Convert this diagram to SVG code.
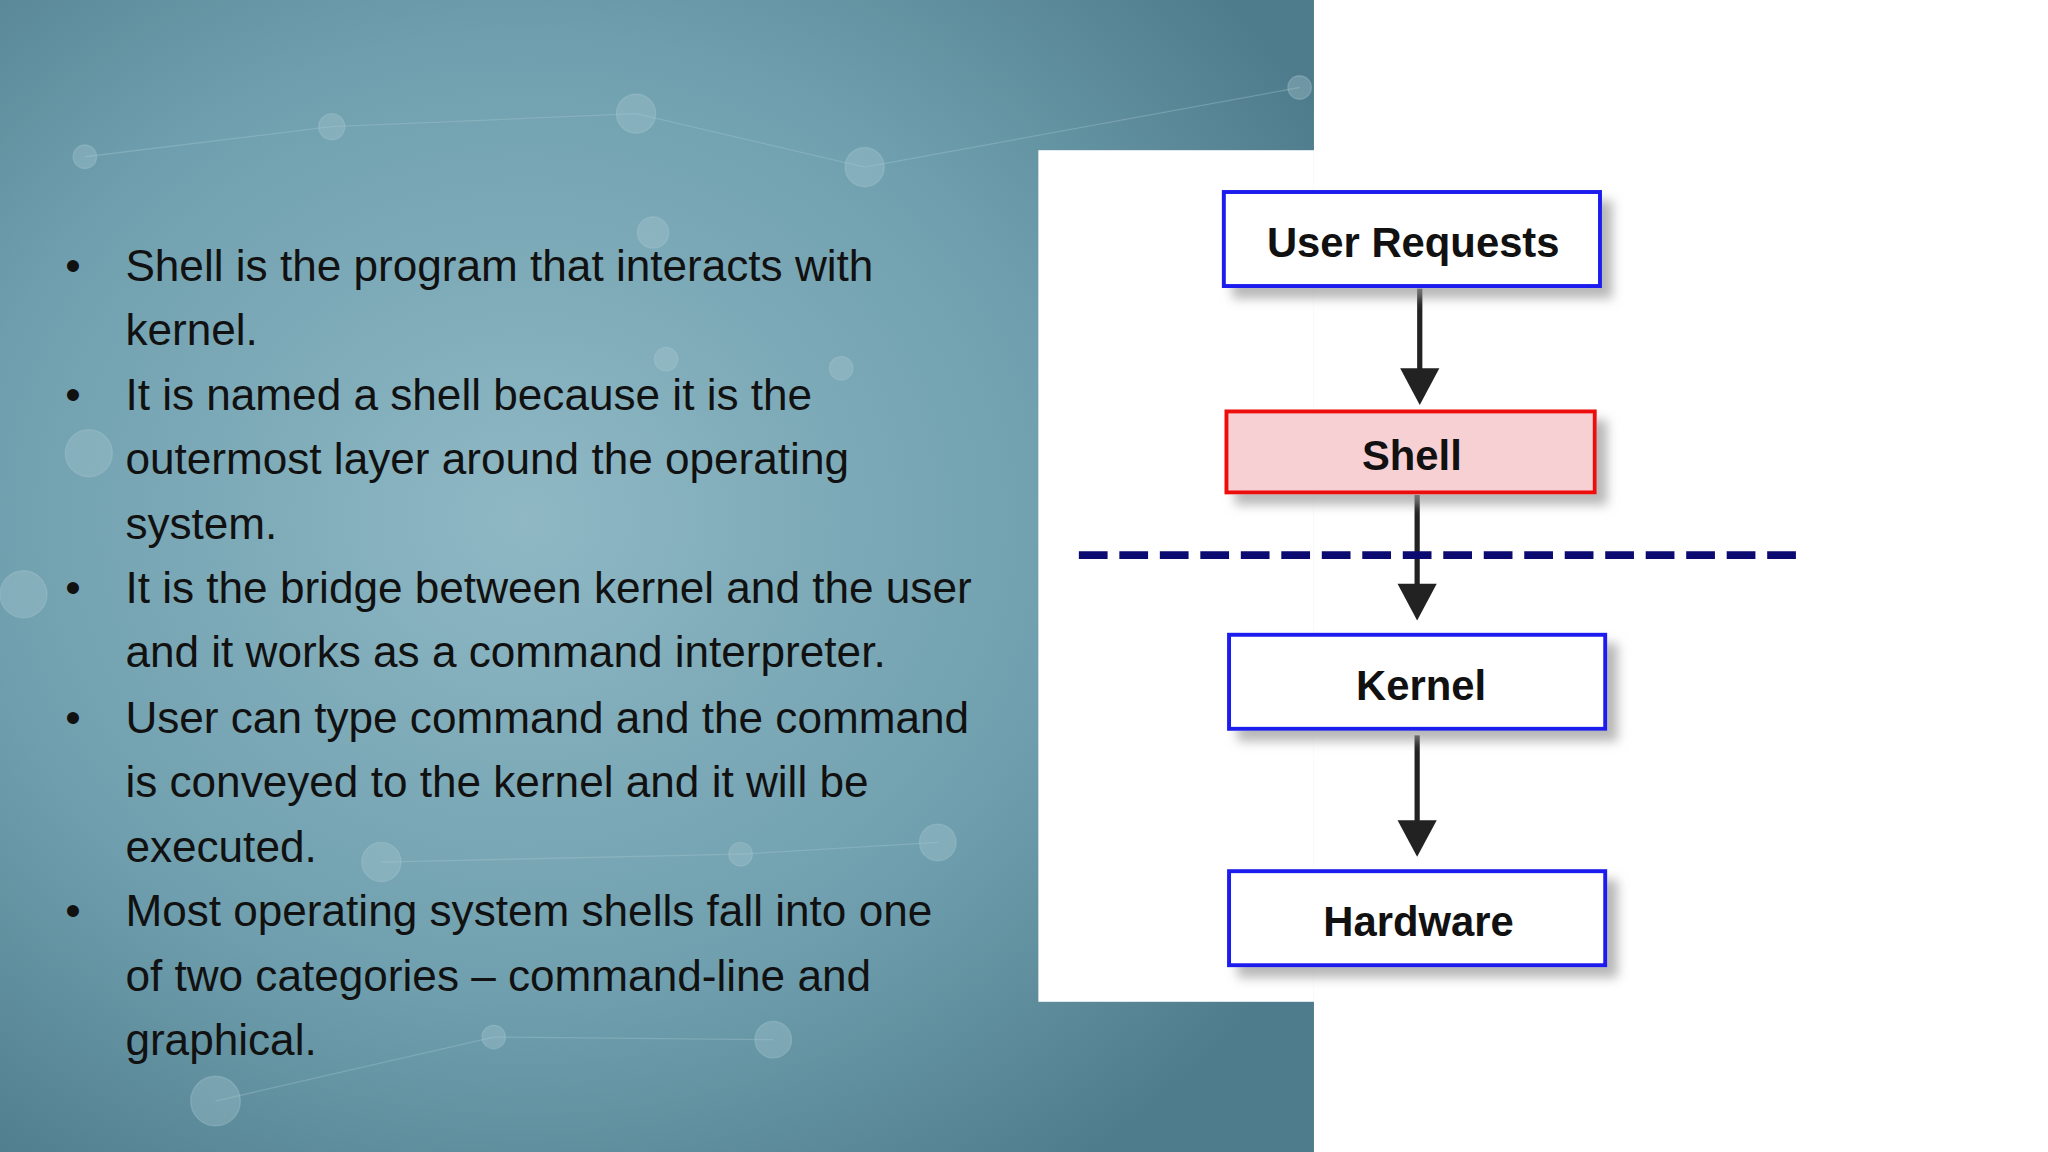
<svg xmlns="http://www.w3.org/2000/svg" width="2048" height="1152" viewBox="0 0 2048 1152">
<defs>
<radialGradient id="bg" cx="0.4" cy="0.45" r="0.7">
<stop offset="0" stop-color="#8fb8c4"/><stop offset="0.6" stop-color="#6f9fae"/><stop offset="1" stop-color="#4f7c8c"/>
</radialGradient>
<filter id="sh" x="-10%" y="-20%" width="130%" height="160%"><feDropShadow dx="8" dy="8" stdDeviation="4" flood-color="#999" flood-opacity="0.7"/></filter>
</defs>
<style>
.t{font-family:"Liberation Sans",Arial,sans-serif;font-size:33.8px;fill:#111}
.n{font-family:"Liberation Sans",Arial,sans-serif;font-size:32px;font-weight:bold;fill:#111;text-anchor:middle}
.b{fill:#fff;stroke:#1a1aee;stroke-width:3}
.c{stroke:#222;stroke-width:4;fill:none}
.h{fill:#222}
</style>
<rect width="2048" height="1152" fill="#fff"/>
<g transform="scale(1.30612)">
<rect x="0" y="0" width="1006" height="882" fill="url(#bg)"/>
<g stroke="#a8c8d2" stroke-opacity="0.35" fill="#a8c8d2" fill-opacity="0.35">
<line x1="65" y1="120" x2="254" y2="97"/><line x1="254" y1="97" x2="487" y2="87"/><line x1="487" y1="87" x2="662" y2="128"/><line x1="662" y1="128" x2="995" y2="67"/><line x1="292" y1="660" x2="567" y2="654"/><line x1="567" y1="654" x2="718" y2="645"/><line x1="378" y1="794" x2="592" y2="796"/><line x1="165" y1="843" x2="378" y2="794"/>
<circle cx="65" cy="120" r="9"/><circle cx="254" cy="97" r="10"/><circle cx="487" cy="87" r="15"/><circle cx="662" cy="128" r="15"/><circle cx="995" cy="67" r="9"/><circle cx="68" cy="347" r="18"/><circle cx="18" cy="455" r="18"/><circle cx="292" cy="660" r="15"/><circle cx="567" cy="654" r="9"/><circle cx="718" cy="645" r="14"/><circle cx="378" cy="794" r="9"/><circle cx="592" cy="796" r="14"/><circle cx="165" cy="843" r="19"/><circle cx="510" cy="275" r="9"/><circle cx="644" cy="282" r="9"/><circle cx="500" cy="178" r="12"/>
</g>
<rect x="795" y="115" width="211" height="652" fill="#fff"/>
<g id="text">
<text class="t" x="50" y="215">•</text><text class="t" x="96" y="215">Shell is the program that interacts with</text>
<text class="t" x="96" y="264">kernel.</text>
<text class="t" x="50" y="314">•</text><text class="t" x="96" y="314">It is named a shell because it is the</text>
<text class="t" x="96" y="363">outermost layer around the operating</text>
<text class="t" x="96" y="413">system.</text>
<text class="t" x="50" y="462">•</text><text class="t" x="96" y="462">It is the bridge between kernel and the user</text>
<text class="t" x="96" y="511">and it works as a command interpreter.</text>
<text class="t" x="50" y="561">•</text><text class="t" x="96" y="561">User can type command and the command</text>
<text class="t" x="96" y="610">is conveyed to the kernel and it will be</text>
<text class="t" x="96" y="660">executed.</text>
<text class="t" x="50" y="709">•</text><text class="t" x="96" y="709">Most operating system shells fall into one</text>
<text class="t" x="96" y="759">of two categories – command-line and</text>
<text class="t" x="96" y="808">graphical.</text>
</g>
<g id="connectors">
<line class="c" x1="1087" y1="221" x2="1087" y2="285"/>
<polygon class="h" points="1072,282 1102,282 1087,310"/>
<line class="c" x1="1085" y1="379" x2="1085" y2="450"/>
<polygon class="h" points="1070,447 1100,447 1085,475"/>
<line class="c" x1="1085" y1="563" x2="1085" y2="630"/>
<polygon class="h" points="1070,628 1100,628 1085,656"/>
<line x1="826" y1="425" x2="1380" y2="425" stroke="#0a0a70" stroke-width="6" stroke-dasharray="22,9"/>
</g>
<g id="user"><rect class="b" x="937" y="147" width="288" height="72" filter="url(#sh)"/><text class="n" x="1082" y="197">User Requests</text></g>
<g id="shell"><rect x="939" y="315" width="282" height="62" fill="#f7d0d4" stroke="#ee1111" stroke-width="3" filter="url(#sh)"/><text class="n" x="1081" y="360">Shell</text></g>
<g id="kernel"><rect class="b" x="941" y="486" width="288" height="72" filter="url(#sh)"/><text class="n" x="1088" y="536">Kernel</text></g>
<g id="hardware"><rect class="b" x="941" y="667" width="288" height="72" filter="url(#sh)"/><text class="n" x="1086" y="717">Hardware</text></g>
</g>
</svg>
